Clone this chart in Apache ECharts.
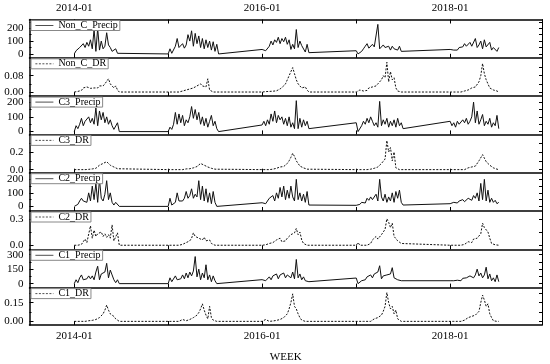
<!DOCTYPE html>
<html><head><meta charset="utf-8">
<script src="https://cdn.jsdelivr.net/npm/echarts@6/dist/echarts.min.js"></script>
<style>html,body{margin:0;padding:0;background:#fff}#c{width:550px;height:364px}</style>
</head><body><div id="c"></div>
<script>
// ---- data ----
const seasonYears = [2014, 2015, 2016, 2017, 2018];
const yearTicks = [2014, 2015, 2016, 2017, 2018];
const xTickLabels = ['2014-01', '2016-01', '2018-01'];
const xAxisTitle = 'WEEK';

const nonC_Precip = [
 [0,25,10,50,35,80,50,90,60,110,40,190,20,200,30,100,40,60,165,70,50,20,15,40,5,0],
 [0,40,5,20,60,120,50,40,80,45,70,150,100,180,60,160,80,140,50,120,40,110,50,100,30,95,20,75,0],
 [35,50,25,20,60,100,70,110,90,130,80,120,95,130,75,110,35,75,40,190,50,100,65,70,15,75,10],
 [25,0,5,20,40,60,80,45,60,75,55,50,230,40,55,70,50,60,60,30,60,40,55,30,60,20,15],
 [35,25,30,45,30,50,40,55,80,60,50,90,60,75,120,50,70,100,40,110,55,40,90,30,50,60,20,50]
];
const nonC_DR = [
 [0,0,0.003,0.005,0.008,0.02,0.015,0.025,0.02,0.018,0.01,0.02,0.025,0.02,0.03,0.035,0.03,0.04,0.045,0.065,0.04,0.035,0.02,0.03,0.01,0],
 [0,0,0,0,0,0,0,0,0.005,0.003,0.01,0.008,0.015,0.01,0.02,0.025,0.03,0.035,0.04,0.03,0.035,0.025,0.065,0.01,0.005,0,0,0],
 [0,0,0.002,0.005,0.003,0.005,0.004,0.008,0.006,0.01,0.015,0.02,0.03,0.04,0.06,0.08,0.1,0.12,0.09,0.06,0.04,0.03,0.02,0.015,0.025,0.01,0],
 [0,0.005,0.01,0.003,0.005,0.01,0.008,0.02,0.015,0.025,0.02,0.03,0.04,0.035,0.06,0.08,0.07,0.146,0.05,0.1,0.06,0.07,0.02,0.005,0,0,0],
 [0,0,0,0,0,0,0,0.002,0.005,0.003,0.01,0.008,0.02,0.015,0.025,0.03,0.05,0.08,0.14,0.09,0.06,0.04,0.02,0.015,0.01,0.008,0.005,0]
];
const c3_Precip = [
 [0,40,20,50,90,40,70,60,100,60,90,50,160,40,140,80,130,60,100,50,80,40,15,10,60,0],
 [0,30,15,50,130,50,120,60,110,40,80,60,100,170,90,150,80,130,50,100,40,90,30,70,110,40,70,20,0],
 [45,70,40,80,50,120,70,140,60,110,80,100,50,90,40,100,30,60,20,210,20,90,30,80,40,70,20],
 [60,0,10,40,70,50,90,60,100,70,40,60,30,205,40,80,50,90,30,70,40,80,30,90,40,60,20],
 [70,40,60,30,70,50,40,80,60,90,50,70,100,200,60,140,50,80,116,40,70,50,90,30,60,40,110,20]
];
const c3_DR = [
 [0,0,0,0,0,0,0,0,0.003,0.005,0.008,0.01,0.015,0.03,0.05,0.06,0.07,0.08,0.09,0.07,0.05,0.04,0.03,0.02,0.01,0],
 [0,0,0,0,0,0,0,0,0,0.003,0.008,0.012,0.01,0.015,0.02,0.03,0.035,0.05,0.07,0.06,0.05,0.04,0.03,0.02,0.015,0.01,0.005,0],
 [0,0,0,0,0,0.003,0.005,0.01,0.015,0.02,0.03,0.04,0.035,0.05,0.07,0.1,0.14,0.185,0.15,0.1,0.07,0.04,0.03,0.02,0.01,0.005,0],
 [0,0,0,0,0,0,0,0.003,0.005,0.01,0.015,0.02,0.03,0.05,0.07,0.09,0.12,0.33,0.2,0.25,0.1,0.2,0.02,0.005,0,0,0],
 [0,0,0,0,0,0,0,0,0,0.01,0.02,0.015,0.03,0.02,0.04,0.05,0.1,0.12,0.17,0.13,0.09,0.08,0.05,0.03,0.02,0.01,0.005,0]
];
const c2_Precip = [
 [0,10,15,40,60,40,50,30,100,40,150,50,170,30,200,60,40,90,190,50,100,30,10,30,20,0],
 [0,60,10,20,30,100,40,50,40,60,110,60,80,130,60,90,70,190,50,150,40,130,30,100,20,110,30,0],
 [27,40,20,30,60,50,80,40,100,60,140,70,150,50,120,60,150,70,40,200,50,100,40,90,30,110,10],
 [8,0,15,30,40,25,60,45,70,50,60,90,40,200,70,40,90,30,70,40,100,30,110,60,120,30,10],
 [20,15,30,20,25,40,30,50,35,40,60,50,45,80,60,100,40,170,50,200,40,120,30,60,30,45,20,30]
];
const c2_DR = [
 [0,0,0,0.02,0.01,0.03,0.07,0.03,0.05,0.22,0.08,0.17,0.1,0.13,0.12,0.15,0.1,0.13,0.09,0.12,0.08,0.23,0.05,0.04,0.14,0],
 [0,0,0,0,0,0,0,0.005,0.01,0.02,0.03,0.04,0.05,0.08,0.14,0.1,0.12,0.08,0.1,0.06,0.09,0.05,0.04,0.06,0.02,0.01,0,0],
 [0,0,0.005,0.01,0.02,0.015,0.03,0.02,0.06,0.04,0.08,0.04,0.06,0.05,0.08,0.1,0.12,0.1,0.14,0.19,0.12,0.15,0.06,0.02,0.01,0,0],
 [0,0.03,0,0,0,0,0,0.005,0.02,0.06,0.04,0.1,0.07,0.05,0.12,0.15,0.18,0.3,0.26,0.2,0.25,0.1,0.08,0.05,0.04,0.02,0],
 [0,0,0,0,0,0,0,0.005,0.01,0.02,0.04,0.06,0.03,0.07,0.06,0.08,0.1,0.13,0.25,0.2,0.22,0.15,0.08,0.02,0.01,0.005,0,0]
];
const c1_Precip = [
 [0,40,10,60,90,40,60,50,80,50,80,40,120,180,40,100,80,120,210,60,140,90,40,10,40,0],
 [0,60,20,30,80,40,60,50,90,50,110,60,120,80,130,280,70,150,40,110,60,195,40,90,20,80,30,0],
 [41,60,30,50,70,40,80,60,100,50,90,70,110,60,90,80,60,120,50,250,60,100,40,70,30,50,20],
 [58,0,10,30,50,40,70,60,90,60,100,80,120,185,50,80,60,90,70,100,165,60,80,40,50,30,10],
 [30,40,30,50,35,45,30,55,40,60,50,80,100,60,90,150,80,110,60,90,170,50,100,30,60,20,90,20]
];
const c1_DR = [
 [0,0,0,0,0,0,0,0.002,0.005,0.003,0.008,0.01,0.015,0.02,0.03,0.04,0.06,0.09,0.13,0.09,0.06,0.055,0.04,0.02,0.01,0],
 [0,0,0,0.015,0,0,0,0,0.015,0,0.005,0.008,0.015,0.02,0.03,0.04,0.05,0.07,0.1,0.14,0.09,0.05,0.02,0.12,0.03,0.01,0,0],
 [0,0.005,0.015,0.02,0,0,0.003,0.005,0.008,0.01,0.015,0.02,0.03,0.04,0.06,0.1,0.15,0.22,0.12,0.1,0.06,0.03,0.01,0.005,0,0,0],
 [0,0,0,0,0,0,0,0,0,0.01,0.02,0.015,0.03,0.04,0.05,0.08,0.12,0.23,0.15,0.1,0.12,0.06,0.09,0.02,0.005,0,0],
 [0,0,0,0,0,0,0,0.005,0.01,0.02,0.03,0.025,0.04,0.03,0.05,0.06,0.08,0.15,0.21,0.17,0.12,0.14,0.06,0.03,0.005,0,0,0]
];

// y tick labels per panel
const ticksNonCPrecip = [0, 100, 200];
const ticksNonCDR = [0, 0.08];
const ticksC3Precip = [0, 100, 200];
const ticksC3DR = [0, 0.2];
const ticksC2Precip = [0, 100, 200];
const ticksC2DR = [0, 0.3];
const ticksC1Precip = [0, 150, 300];
const ticksC1DR = [0, 0.15];

// ---- build ----
const DAY = 86400000;
function toPoints(seasons) {
  const pts = [];
  seasons.forEach((vals, si) => {
    const t0 = Date.UTC(seasonYears[si], 0, 1);
    vals.forEach((v, k) => pts.push([t0 + k * 7 * DAY, v]));
  });
  return pts;
}
const FONT = 'Liberation Serif';
const panels = [
  {name: 'Non_C_Precip', data: nonC_Precip, min: -30, max: 268, major: ticksNonCPrecip, minor: [50, 150, 250], dec: 0, dotted: false},
  {name: 'Non_C_DR', data: nonC_DR, min: -0.02, max: 0.168, major: ticksNonCDR, minor: [0.04, 0.12], dec: 2, dotted: true},
  {name: 'C3_Precip', data: c3_Precip, min: -19, max: 241, major: ticksC3Precip, minor: [50, 150], dec: 0, dotted: false},
  {name: 'C3_DR', data: c3_DR, min: -0.035, max: 0.4, major: ticksC3DR, minor: [0.1, 0.3], dec: 1, dotted: true},
  {name: 'C2_Precip', data: c2_Precip, min: -34, max: 249, major: ticksC2Precip, minor: [50, 150], dec: 0, dotted: false},
  {name: 'C2_DR', data: c2_DR, min: -0.046, max: 0.388, major: ticksC2DR, minor: [0.15], dec: 1, dotted: true},
  {name: 'C1_Precip', data: c1_Precip, min: -41, max: 355, major: ticksC1Precip, minor: [75, 225], dec: 0, dotted: false},
  {name: 'C1_DR', data: c1_DR, min: -0.029, max: 0.27, major: ticksC1DR, minor: [0.075, 0.225], dec: 2, dotted: true}
];

const X0 = Date.UTC(2013, 6, 11), X1 = Date.UTC(2018, 11, 24);
const yearVals = yearTicks.map(y => Date.UTC(y, 0, 1));
const labelVals = xTickLabels.map(s => Date.UTC(parseInt(s.slice(0, 4)), parseInt(s.slice(5)) - 1, 1));
const labelFmt = v => { const i = labelVals.indexOf(v); return i >= 0 ? xTickLabels[i] : ''; };

const TOP = 19.5, H = 38.3, LEFT = 29.5, RIGHT = 8;
const grid = [], xAxis = [], yAxis = [], series = [], legend = [];
panels.forEach((p, i) => {
  const top = TOP + i * H;
  grid.push({left: LEFT, right: RIGHT, top: top, height: H, show: false});
  xAxis.push({
    type: 'value', gridIndex: i, min: X0, max: X1, position: 'bottom',
    axisLine: {show: true, onZero: false, lineStyle: {color: '#000', width: 1.5}},
    axisTick: {show: true, inside: true, length: 4, customValues: yearVals, lineStyle: {color: '#000', width: 1}},
    axisLabel: {show: i === 7, customValues: labelVals, formatter: labelFmt, margin: 6,
      fontFamily: FONT, fontSize: 11, color: '#000'},
    splitLine: {show: false},
    name: i === 7 ? xAxisTitle : '', nameLocation: 'middle', nameGap: 27,
    nameTextStyle: {fontFamily: FONT, fontSize: 11, color: '#000'}
  });
  const yi = yAxis.length;
  yAxis.push({
    type: 'value', gridIndex: i, min: p.min, max: p.max, position: 'left',
    axisLine: {show: true, onZero: false, lineStyle: {color: '#000', width: 1.5}},
    axisTick: {show: true, inside: true, length: 4, customValues: p.major, lineStyle: {color: '#000'}},
    axisLabel: {show: true, customValues: p.major, margin: 6, formatter: v => Number(v).toFixed(p.dec),
      fontFamily: FONT, fontSize: 11, color: '#000'},
    splitLine: {show: false}
  });
  yAxis.push({
    type: 'value', gridIndex: i, min: p.min, max: p.max, position: 'left',
    axisLine: {show: false, onZero: false},
    axisTick: {show: true, inside: true, length: 2, customValues: p.minor, lineStyle: {color: '#000'}},
    axisLabel: {show: false}, splitLine: {show: false}
  });
  yAxis.push({
    type: 'value', gridIndex: i, min: p.min, max: p.max, position: 'right',
    axisLine: {show: true, onZero: false, lineStyle: {color: '#000', width: 1}},
    axisTick: {show: true, inside: true, length: 3, customValues: p.major.concat(p.minor), lineStyle: {color: '#000'}},
    axisLabel: {show: false}, splitLine: {show: false}
  });
  series.push({
    name: p.name, type: 'line', xAxisIndex: i, yAxisIndex: yi,
    data: toPoints(p.data), symbol: 'none', showSymbol: false, animation: false,
    lineStyle: {color: '#111', width: 1, type: p.dotted ? [2, 1.5] : 'solid'}
  });
  legend.push({
    data: [p.name], left: 31, top: top + 1, orient: 'horizontal',
    borderColor: '#888', borderWidth: 1, backgroundColor: '#fff', borderRadius: 0,
    padding: [0, 2, 0, 4], itemWidth: 18, itemHeight: 10, itemGap: 0,
    selectedMode: false,
    itemStyle: {color: 'rgba(0,0,0,0)', borderWidth: 0, opacity: 0},
    lineStyle: {width: 0.8, color: '#222', type: p.dotted ? [2, 1.5] : 'solid'},
    textStyle: {fontFamily: FONT, fontSize: 10, color: '#000'}
  });
});
xAxis.push({
  type: 'value', gridIndex: 0, min: X0, max: X1, position: 'top',
  axisLine: {show: true, onZero: false, lineStyle: {color: '#000', width: 1.5}},
  axisTick: {show: true, inside: true, length: 4, customValues: yearVals, lineStyle: {color: '#000'}},
  axisLabel: {show: true, customValues: labelVals, formatter: labelFmt, margin: 6,
    fontFamily: FONT, fontSize: 11, color: '#000'},
  splitLine: {show: false}
});

const chart = echarts.init(document.getElementById('c'), null, {renderer: 'canvas'});
chart.setOption({
  animation: false, backgroundColor: '#fff',
  grid, xAxis, yAxis, series, legend
});
</script></body></html>
